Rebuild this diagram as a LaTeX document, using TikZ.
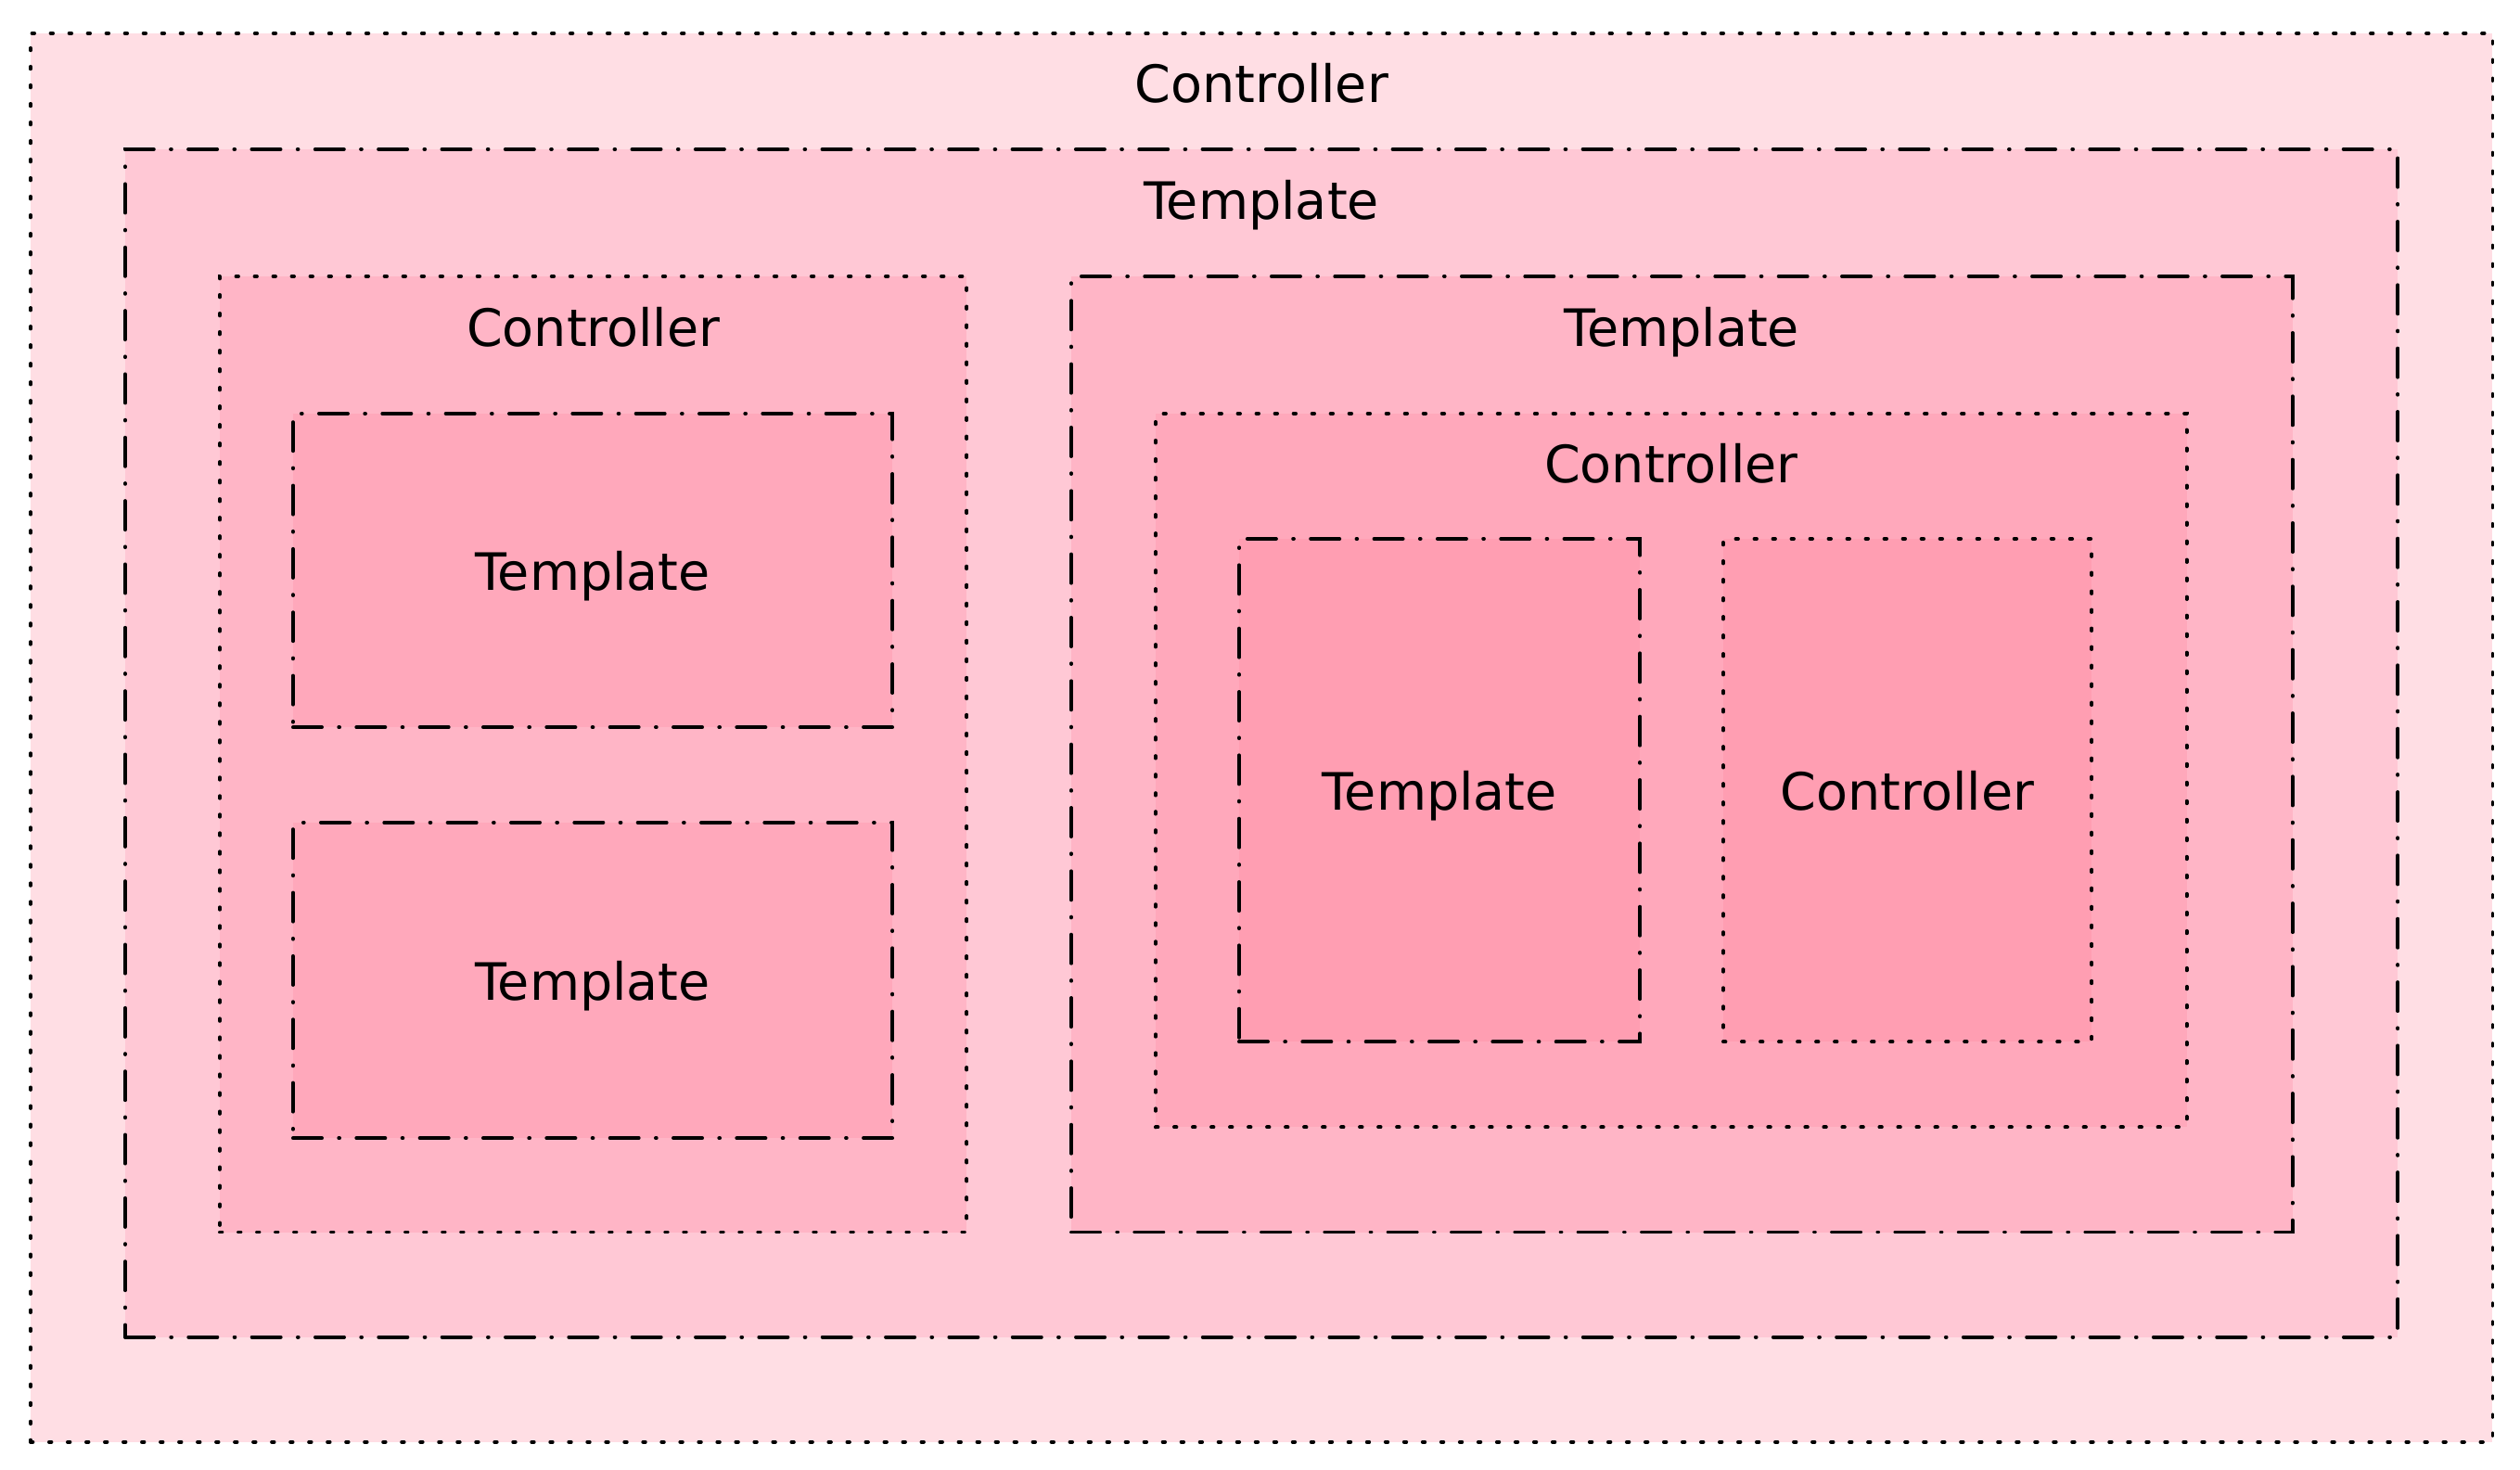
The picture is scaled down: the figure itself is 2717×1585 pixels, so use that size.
\documentclass[tikz,border=0pt]{standalone}
\usepackage{fontspec}
\setmainfont{DejaVu Sans}
\usepackage{tikz}

\definecolor{pinkA}{HTML}{FFDEE4}
\definecolor{pinkB}{HTML}{FFC8D5}
\definecolor{pinkC}{HTML}{FFB5C6}
\definecolor{pinkD}{HTML}{FFA8BB}
\definecolor{pinkE}{HTML}{FF9EB2}

\begin{document}
\begin{tikzpicture}[x = 0.01cm, y = -0.01cm, line width = 1.1pt,
                        font = \fontsize{15.8}{19}\selectfont,
                        box/.style = {rectangle, draw, anchor = north west, inner sep = 0pt, text depth = 0pt},
                        ctrl/.style = {box, line cap = round, dash pattern = on 0.025cm off 0.175cm},
                        tmpl/.style = {box, line cap = round, dash pattern = on 0.311cm off 0.182cm on 0.008cm off 0.182cm},
                        title/.style = {anchor = base, inner sep = 0pt}]
      \useasboundingbox (0, 0) rectangle (2717, 1585);
      % outer levels
      \node [ctrl, fill = pinkA, minimum width = 26.53cm, minimum height = 15.18cm] (ctrlA) at (31, 34){};
      \node [title] at ([yshift = -0.76cm]ctrlA.north){Controller};
      \node [tmpl, fill = pinkB, minimum width = 24.49cm, minimum height = 12.80cm] (tmplA) at (133, 159){};
      \node [title] at ([yshift = -0.77cm]tmplA.north){Template};
      % left column
      \node [ctrl, fill = pinkC, minimum width = 8.05cm, minimum height = 10.30cm] (ctrlB) at (235, 296){};
      \node [title] at ([yshift = -0.77cm]ctrlB.north){Controller};
      \node [tmpl, fill = pinkD, minimum width = 6.46cm, minimum height = 3.38cm] (tmplB) at (314, 444){Template};
      \node [tmpl, fill = pinkD, minimum width = 6.46cm, minimum height = 3.40cm] (tmplC) at (314, 885){Template};
      % right column
      \node [tmpl, fill = pinkC, minimum width = 13.16cm, minimum height = 10.30cm] (tmplD) at (1153, 296){};
      \node [title] at ([yshift = -0.77cm]tmplD.north){Template};
      \node [ctrl, fill = pinkD, minimum width = 11.11cm, minimum height = 7.69cm] (ctrlC) at (1244, 444){};
      \node [title] at ([yshift = -0.76cm]ctrlC.north){Controller};
      \node [tmpl, fill = pinkE, minimum width = 4.32cm, minimum height = 5.42cm] (tmplE) at (1334, 579){Template};
      \node [ctrl, fill = pinkE, minimum width = 3.97cm, minimum height = 5.42cm] (ctrlD) at (1856, 579){Controller};
    \end{tikzpicture}
\end{document}
